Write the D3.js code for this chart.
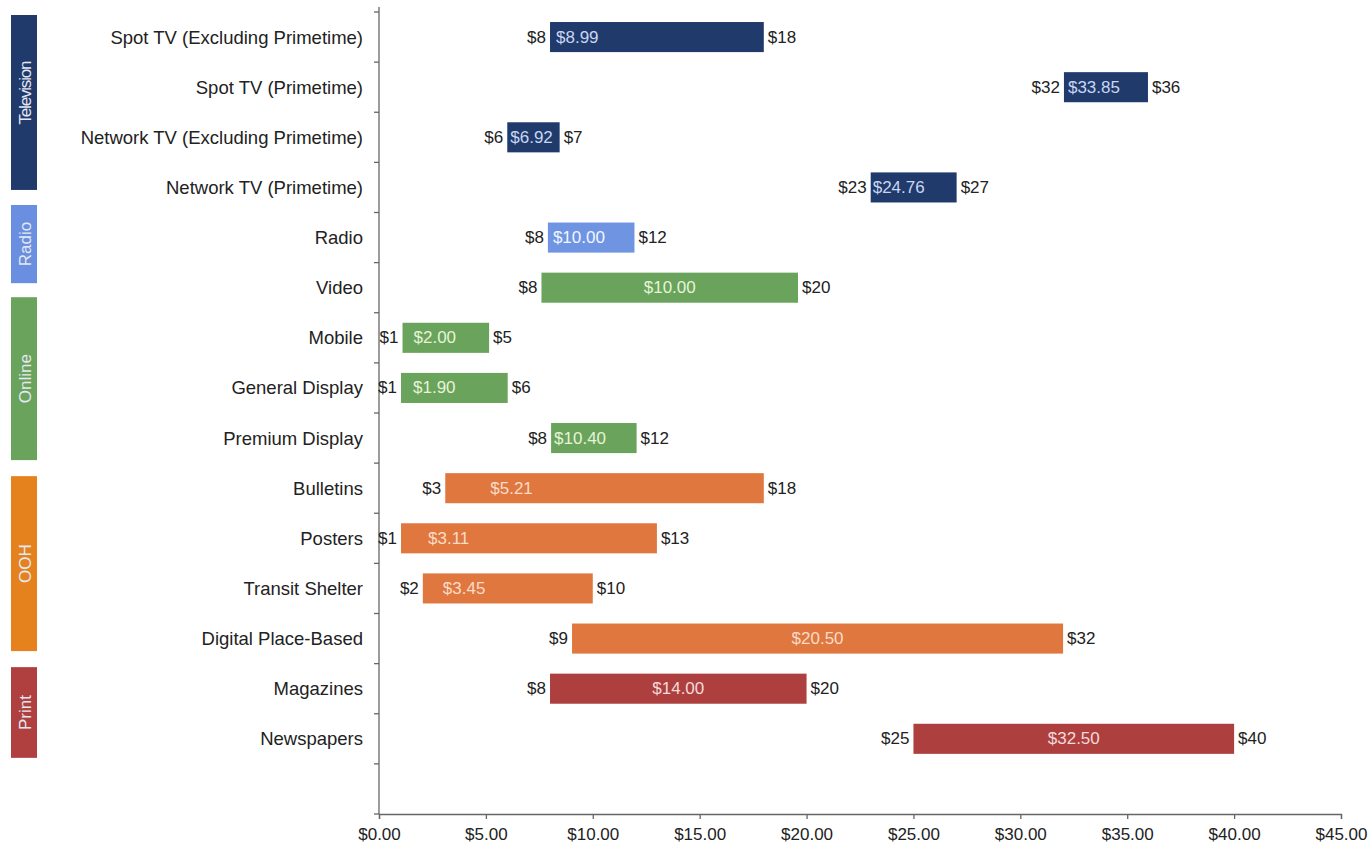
<!DOCTYPE html>
<html>
<head>
<meta charset="utf-8">
<script src="https://cdn.jsdelivr.net/npm/d3@7"></script>
<style>
  body { margin: 0; background: #fff; }
  svg text { font-family: "Liberation Sans", Arial, sans-serif; }
</style>
</head>
<body>
<svg width="1370" height="844"></svg>
<script>
// Cost ranges per media type (bar = low..high, inner label = average)
const categories = [
    "Spot TV (Excluding Primetime)", "Spot TV (Primetime)",
    "Network TV (Excluding Primetime)", "Network TV (Primetime)",
    "Radio", "Video", "Mobile", "General Display", "Premium Display",
    "Bulletins", "Posters", "Transit Shelter", "Digital Place-Based",
    "Magazines", "Newspapers"
];
const categoryGroup = [
    "Television", "Television", "Television", "Television",
    "Radio", "Online", "Online", "Online", "Online",
    "OOH", "OOH", "OOH", "OOH", "Print", "Print"
];
const barLow  = [8, 32.04, 6, 23, 7.9, 7.6, 1.1, 1.03, 8.05, 3.1, 1.03, 2.05, 9.03, 8, 25];
const barHigh = [18, 35.97, 8.45, 27.02, 11.95, 19.6, 5.15, 6.02, 12.05, 18, 13, 10, 32, 20, 40];
const lowLabels  = ["$8", "$32", "$6", "$23", "$8", "$8", "$1", "$1", "$8", "$3", "$1", "$2", "$9", "$8", "$25"];
const highLabels = ["$18", "$36", "$7", "$27", "$12", "$20", "$5", "$6", "$12", "$18", "$13", "$10", "$32", "$20", "$40"];
const avgValues  = [8.99, 33.85, 6.92, 24.76, 10.00, 10.00, 2.00, 1.90, 10.40, 5.21, 3.11, 3.45, 20.50, 14.00, 32.50];

const groups = ["Television", "Radio", "Online", "OOH", "Print"];
const xTicks = [0, 5, 10, 15, 20, 25, 30, 35, 40, 45];

// Layout / style
const barColors   = { Television: "#213a6c", Radio: "#6f95e2", Online: "#6aa35b", OOH: "#e0773e", Print: "#ad3f3e" };
const boxColors   = { Television: "#213a6c", Radio: "#6a8fe0", Online: "#6aa35b", OOH: "#e5821d", Print: "#b0403f" };
const avgColors   = { Television: "#c8d6f2", Radio: "#f2f6ff", Online: "#e6f4d8", OOH: "#f9dccb", Print: "#f5dada" };
// inset of the average label from the bar start (null = centred)
const avgInset = [6, 4, 3, 2, 5, null, 11, 12, 3, 45, 27, 20, null, null, null];
// group box extents in band units
const groupSpan = { Television: [0.06, 3.55], Radio: [3.85, 5.41], Online: [5.69, 8.94], OOH: [9.26, 12.75], Print: [13.07, 14.88] };

const svg = d3.select("svg");
const axisX = 379, axisY = 814, topY = 12;

const x = d3.scaleLinear().domain([0, 45]).range([axisX, 1341]);
const y = d3.scaleBand()
            .domain(d3.range(16))
            .range([topY, axisY])
            .paddingInner(0.4)
            .paddingOuter(0.2);
const bandPos = d3.scaleLinear().domain([0, 16]).range([topY, axisY]);

// Group boxes on the far left
groups.forEach(function (g) {
    const y0 = bandPos(groupSpan[g][0]), y1 = bandPos(groupSpan[g][1]);
    svg.append("rect")
       .attr("x", 11).attr("y", y0)
       .attr("width", 26).attr("height", y1 - y0)
       .attr("fill", boxColors[g]);
    svg.append("text")
       .attr("transform", "translate(25," + ((y0 + y1) / 2 - (g === "Television" ? 10 : 0)) + ") rotate(-90)")
       .attr("text-anchor", "middle")
       .attr("dominant-baseline", "central")
       .attr("font-size", 17)
       .attr("textLength", g === "Television" ? 64 : null)
       .attr("fill", "#e4e8f2")
       .text(g);
});

// Y axis line and band ticks
svg.append("line")
   .attr("x1", axisX).attr("x2", axisX)
   .attr("y1", 7).attr("y2", axisY)
   .attr("stroke", "#666").attr("stroke-width", 1.3);
svg.selectAll(".ytick")
   .data(d3.range(17))
   .join("line")
   .attr("x1", axisX - 5).attr("x2", axisX)
   .attr("y1", d => bandPos(d)).attr("y2", d => bandPos(d))
   .attr("stroke", "#666").attr("stroke-width", 1.3);

// Category labels
svg.selectAll(".cat")
   .data(categories)
   .join("text")
   .attr("x", axisX - 16)
   .attr("y", (d, i) => y(i) + y.bandwidth() / 2)
   .attr("text-anchor", "end")
   .attr("dominant-baseline", "central")
   .attr("font-size", 18.5)
   .attr("fill", "#222")
   .text(d => d);

// X axis
const xAxis = d3.axisBottom(x)
                .tickValues(xTicks)
                .tickSize(5)
                .tickFormat(d => "$" + d3.format(".2f")(d));
const gx = svg.append("g")
              .attr("transform", "translate(0," + axisY + ")")
              .call(xAxis);
gx.select(".domain").attr("stroke", "#666").attr("stroke-width", 1.3);
gx.selectAll(".tick line").attr("stroke", "#666").attr("stroke-width", 1.3);
gx.selectAll(".tick text")
  .attr("font-size", 17)
  .attr("fill", "#222")
  .attr("dy", "1.05em")
  .style("font-family", "Liberation Sans, Arial, sans-serif");

// Bars
const rows = categories.map((c, i) => ({
    i: i, name: c, group: categoryGroup[i],
    lo: barLow[i], hi: barHigh[i],
    loLabel: lowLabels[i], hiLabel: highLabels[i], avg: avgValues[i]
}));

const bars = svg.append("g").selectAll("g")
                .data(rows)
                .join("g");

bars.append("rect")
    .attr("x", d => x(d.lo))
    .attr("y", d => y(d.i))
    .attr("width", d => x(d.hi) - x(d.lo))
    .attr("height", y.bandwidth())
    .attr("fill", d => barColors[d.group]);

bars.append("text")
    .attr("x", d => x(d.lo) - 4)
    .attr("y", d => y(d.i) + y.bandwidth() / 2)
    .attr("text-anchor", "end")
    .attr("dominant-baseline", "central")
    .attr("font-size", 17)
    .attr("fill", "#222")
    .text(d => d.loLabel);

bars.append("text")
    .attr("x", d => x(d.hi) + 4)
    .attr("y", d => y(d.i) + y.bandwidth() / 2)
    .attr("dominant-baseline", "central")
    .attr("font-size", 17)
    .attr("fill", "#222")
    .text(d => d.hiLabel);

bars.append("text")
    .attr("x", d => avgInset[d.i] == null ? (x(d.lo) + x(d.hi)) / 2 : x(d.lo) + avgInset[d.i])
    .attr("y", d => y(d.i) + y.bandwidth() / 2)
    .attr("text-anchor", d => avgInset[d.i] == null ? "middle" : "start")
    .attr("dominant-baseline", "central")
    .attr("font-size", 17)
    .attr("fill", d => avgColors[d.group])
    .text(d => "$" + d.avg.toFixed(2));
</script>
</body>
</html>
